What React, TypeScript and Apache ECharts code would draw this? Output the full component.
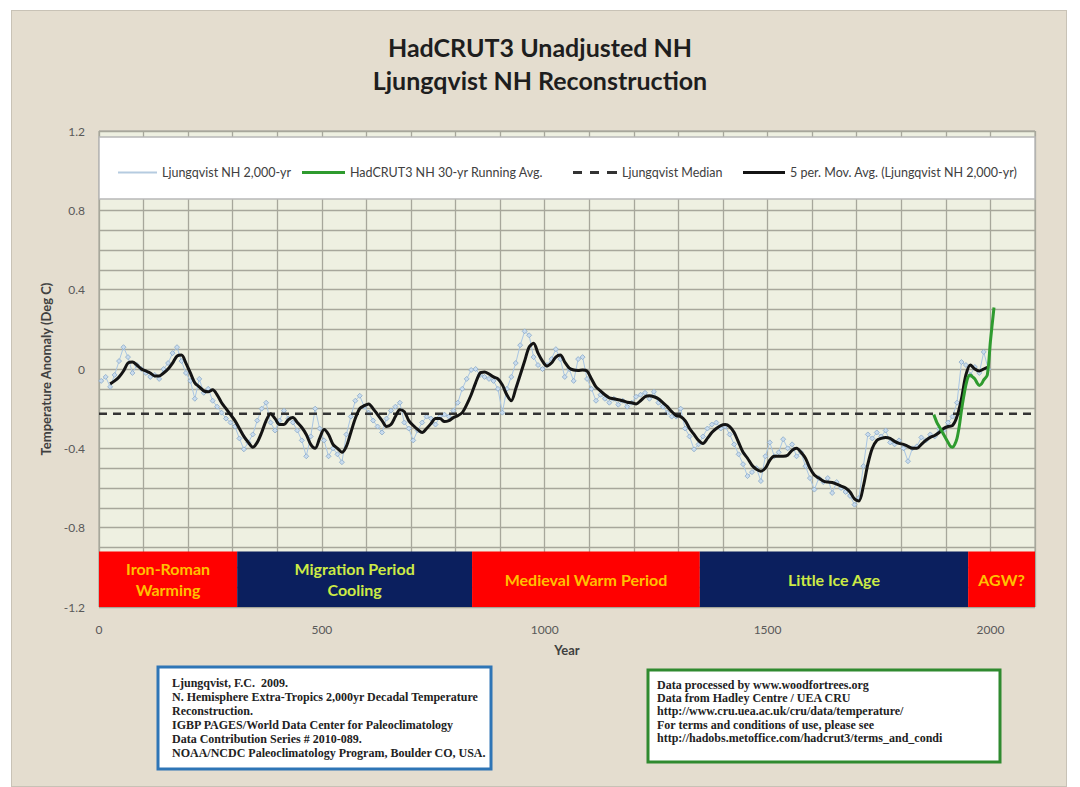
import React, { useEffect, useRef } from 'react';
import * as echarts from 'echarts';

// Ljungqvist NH 2,000-yr decadal reconstruction (one value per decade, years 5, 15, ... 1995)
const rawStartYear = 5;
const rawStep = 10;
const ljungqvistNH = [
  -0.06, -0.04, -0.09, -0.03, 0.04, 0.11, 0.06, -0.02, 0.02, 0.0,
  -0.02, -0.04, -0.03, -0.05, 0.0, 0.03, 0.08, 0.11, 0.04, -0.02,
  -0.06, -0.15, -0.05, -0.12, -0.1, -0.16, -0.19, -0.22, -0.25, -0.27,
  -0.29, -0.35, -0.405, -0.37, -0.33, -0.26, -0.2, -0.17, -0.27, -0.31,
  -0.26, -0.21, -0.25, -0.27, -0.31, -0.36, -0.44, -0.34, -0.2, -0.3,
  -0.36, -0.44, -0.4, -0.43, -0.47, -0.33, -0.24, -0.16, -0.135, -0.19,
  -0.22, -0.26, -0.29, -0.32, -0.25, -0.21, -0.19, -0.17, -0.27, -0.3,
  -0.36, -0.31, -0.27, -0.24, -0.25, -0.28, -0.24, -0.23, -0.24, -0.21,
  -0.17, -0.1, -0.05, -0.005, 0.0, -0.03, -0.04, -0.05, -0.06, -0.1,
  -0.22, -0.1, -0.04, 0.03, 0.12, 0.19, 0.17, 0.06, 0.02, 0.0,
  0.02, 0.05, 0.1, 0.05, -0.04, 0.0, -0.06, 0.05, 0.06, -0.05,
  -0.1, -0.16, -0.13, -0.15, -0.17, -0.15, -0.18, -0.16, -0.19, -0.17,
  -0.14, -0.13, -0.12, -0.15, -0.115, -0.17, -0.19, -0.22, -0.24, -0.24,
  -0.2, -0.3, -0.34, -0.405, -0.38, -0.34, -0.3, -0.28, -0.27, -0.3,
  -0.29, -0.33, -0.38, -0.43, -0.48, -0.54, -0.52, -0.5, -0.565, -0.44,
  -0.37, -0.44, -0.42, -0.354, -0.4, -0.38, -0.44, -0.42, -0.49, -0.55,
  -0.608, -0.55, -0.57, -0.55, -0.625, -0.57, -0.6, -0.62, -0.64, -0.684,
  -0.65, -0.49, -0.33, -0.35, -0.32, -0.34, -0.31, -0.37, -0.38, -0.36,
  -0.4, -0.465, -0.4, -0.39, -0.345, -0.36, -0.33, -0.34, -0.3, -0.31,
  -0.27, -0.24, -0.17, 0.035, 0.02, -0.03, 0.01, -0.02, 0.086, 0.0,
];

// 5 per. Mov. Avg. (Ljungqvist NH 2,000-yr) at years 25, 35, ... 1995
const maStartYear = 25;
const maStep = 10;
const movingAvg5 = [
  -0.075, -0.06, -0.04, -0.01, 0.03, 0.035, 0.02, 0.0,
  -0.01, -0.02, -0.035, -0.035, -0.02, 0.0, 0.03, 0.065, 0.07, 0.03,
  -0.02, -0.07, -0.09, -0.11, -0.115, -0.105, -0.13, -0.17, -0.2, -0.23,
  -0.26, -0.3, -0.34, -0.37, -0.395, -0.37, -0.32, -0.26, -0.225, -0.25,
  -0.28, -0.28, -0.255, -0.245, -0.27, -0.295, -0.33, -0.38, -0.4, -0.35,
  -0.305, -0.33, -0.38, -0.4, -0.42, -0.39, -0.32, -0.25, -0.2, -0.185,
  -0.176, -0.2, -0.23, -0.26, -0.29, -0.28, -0.24, -0.205, -0.215, -0.26,
  -0.285, -0.305, -0.32, -0.3, -0.275, -0.25, -0.25, -0.265, -0.26, -0.245,
  -0.235, -0.22, -0.18, -0.13, -0.07, -0.02, -0.015, -0.025, -0.04, -0.05,
  -0.08, -0.13, -0.16, -0.1, -0.03, 0.04, 0.11, 0.13, 0.08, 0.04,
  0.015, 0.03, 0.06, 0.07, 0.035, 0.005, -0.005, -0.007, -0.005, -0.01,
  -0.05, -0.09, -0.11, -0.13, -0.145, -0.15, -0.155, -0.16, -0.168, -0.17,
  -0.176, -0.16, -0.14, -0.135, -0.14, -0.15, -0.17, -0.19, -0.215, -0.235,
  -0.24, -0.26, -0.3, -0.33, -0.36, -0.375, -0.35, -0.32, -0.3, -0.285,
  -0.28, -0.29, -0.32, -0.37, -0.42, -0.45, -0.485, -0.506, -0.515, -0.5,
  -0.46, -0.44, -0.44, -0.44, -0.435, -0.41, -0.4, -0.42, -0.45, -0.5,
  -0.535, -0.55, -0.565, -0.57, -0.572, -0.58, -0.59, -0.6, -0.62, -0.655,
  -0.665, -0.59, -0.48, -0.4, -0.36, -0.35, -0.345, -0.35, -0.365, -0.375,
  -0.38, -0.39, -0.4, -0.4, -0.38, -0.36, -0.345, -0.335, -0.32, -0.3,
  -0.29, -0.285, -0.24, -0.15, -0.03, 0.02, 0.0, -0.01, 0.0, 0.01,
];

// HadCRUT3 NH 30-yr running average
const hadcrutYears = [1873, 1880, 1885, 1890, 1895, 1900, 1905, 1910, 1915, 1920, 1925, 1930, 1935, 1940, 1945, 1950, 1955, 1960, 1965, 1970, 1975, 1980, 1985, 1993, 2000, 2008];
const hadcrutValues = [-0.23, -0.27, -0.29, -0.31, -0.33, -0.35, -0.37, -0.39, -0.395, -0.38, -0.35, -0.29, -0.21, -0.14, -0.08, -0.04, -0.03, -0.04, -0.05, -0.07, -0.083, -0.075, -0.055, -0.03, 0.14, 0.31];

const ljungqvistMedian = -0.225;

const periodNames = ['Iron-Roman\nWarming', 'Migration Period\nCooling', 'Medieval Warm Period', 'Little Ice Age', 'AGW?'];
const periodStarts = [0, 310, 837, 1348, 1950];
const periodEnds = [310, 837, 1348, 1950, 2100];
const periodWarm = [true, false, true, false, true];
const bandTop = -0.92;
const bandBottom = -1.2;

const xLabelStep = 500;
const leftNoteLines = [
  'Ljungqvist, F.C.  2009.',
  'N. Hemisphere Extra-Tropics 2,000yr Decadal Temperature',
  'Reconstruction.',
  'IGBP PAGES/World Data Center for Paleoclimatology',
  'Data Contribution Series # 2010-089.',
  'NOAA/NCDC Paleoclimatology Program, Boulder CO, USA.',
];
const rightNoteLines = [
  'Data processed by www.woodfortrees.org',
  'Data from Hadley Centre / UEA CRU',
  'http://www.cru.uea.ac.uk/cru/data/temperature/',
  'For terms and conditions of use, please see',
  'http://hadobs.metoffice.com/hadcrut3/terms_and_condi',
];

const FONT = 'Lato, "Open Sans", sans-serif';

export default function App() {
  const ref = useRef<HTMLDivElement>(null);

  useEffect(() => {
    if (!ref.current) return;
    const chart = echarts.init(ref.current, undefined, { renderer: 'svg' });

    const rawData = ljungqvistNH.map((v, i) => [rawStartYear + i * rawStep, v]);
    const maData = movingAvg5.map((v, i) => [maStartYear + i * maStep, v]);
    const hadData = hadcrutYears.map((y, i) => [y, hadcrutValues[i]]);

    const bands = periodNames.map((name, i) => {
      const warm = periodWarm[i];
      return [
        {
          name,
          xAxis: periodStarts[i],
          yAxis: bandBottom,
          itemStyle: { color: warm ? '#FF0000' : '#0B1F5E', opacity: 1 },
          label: {
            show: true,
            position: 'inside',
            color: warm ? '#FFC000' : '#CDEB45',
            fontFamily: FONT,
            fontWeight: 'bold',
            fontSize: 16,
            lineHeight: 21,
            align: 'center',
          },
        },
        { xAxis: periodEnds[i], yAxis: bandTop },
      ];
    });

    const legendBase = {
      top: 161,
      textStyle: { fontFamily: FONT, fontSize: 12.5, color: '#404040' },
      z: 20,
      selectedMode: false,
    };

    chart.setOption({
      animation: false,
      backgroundColor: 'transparent',
      title: {
        text: 'HadCRUT3 Unadjusted NH\nLjungqvist NH Reconstruction',
        left: 'center',
        top: 25,
        textStyle: {
          fontFamily: FONT,
          fontSize: 25,
          fontWeight: 'bold',
          color: '#1e1e1e',
          lineHeight: 33,
        },
      },
      legend: [
        {
          ...legendBase,
          left: 113,
          itemWidth: 39,
          itemHeight: 2,
          data: [{ name: 'Ljungqvist NH 2,000-yr', icon: 'rect' }],
          itemStyle: { color: '#B5CBE0', borderWidth: 0 },
        },
        {
          ...legendBase,
          left: 297,
          itemWidth: 43,
          itemHeight: 3,
          data: [{ name: 'HadCRUT3 NH 30-yr Running Avg.', icon: 'rect' }],
          itemStyle: { color: '#2F9B2F', borderWidth: 0 },
        },
        {
          ...legendBase,
          left: 568,
          itemWidth: 44,
          itemHeight: 3,
          data: [{ name: 'Ljungqvist Median', icon: 'path://M0,0H9V3H0Z M17,0H26V3H17Z M34,0H44V3H34Z' }],
          itemStyle: { color: '#333333', borderWidth: 0 },
        },
        {
          ...legendBase,
          left: 738,
          itemWidth: 42,
          itemHeight: 3,
          data: [{ name: '5 per. Mov. Avg. (Ljungqvist NH 2,000-yr)', icon: 'rect' }],
          itemStyle: { color: '#141414', borderWidth: 0 },
        },
      ],
      grid: {
        left: 99,
        top: 131,
        width: 936,
        height: 476,
        show: true,
        backgroundColor: '#EEF0E1',
        borderColor: '#9C9C94',
        borderWidth: 1,
      },
      xAxis: {
        type: 'value',
        min: 0,
        max: 2100,
        interval: 100,
        name: 'Year',
        nameLocation: 'middle',
        nameGap: 36,
        nameTextStyle: { fontFamily: FONT, fontSize: 13, fontWeight: 'bold', color: '#404040' },
        axisLine: { show: false },
        axisTick: { show: false },
        axisLabel: {
          margin: 16,
          fontFamily: FONT,
          fontSize: 12,
          color: '#595959',
          formatter: (v: number) => (v % xLabelStep === 0 ? String(v) : ''),
        },
        splitLine: { show: true, lineStyle: { color: '#A7A79B', width: 1.3 } },
      },
      yAxis: {
        type: 'value',
        min: -1.2,
        max: 1.2,
        interval: 0.1,
        name: 'Temperature Anomaly (Deg C)',
        nameLocation: 'middle',
        nameGap: 44,
        nameTextStyle: { fontFamily: FONT, fontSize: 13, fontWeight: 'bold', color: '#404040' },
        axisLine: { show: false },
        axisTick: { show: false },
        axisLabel: {
          margin: 14,
          fontFamily: FONT,
          fontSize: 12,
          color: '#595959',
          formatter: (v: number) => {
            const k = Math.round(v * 10);
            if (k % 4 !== 0) return '';
            return k === 0 ? '0' : (k / 10).toFixed(1);
          },
        },
        splitLine: { show: true, lineStyle: { color: '#A7A79B', width: 1.3 } },
      },
      graphic: [
        {
          type: 'rect',
          z: 10,
          shape: { x: 99, y: 137, width: 936, height: 62 },
          style: { fill: '#FFFFFF', stroke: '#B8B8B8', lineWidth: 1.5 },
        },
        {
          type: 'rect',
          z: 10,
          shape: { x: 158, y: 667, width: 333, height: 102 },
          style: { fill: '#FFFFFF', stroke: '#2E75B6', lineWidth: 3 },
        },
        {
          type: 'text',
          z: 11,
          x: 172,
          y: 676,
          style: {
            text: leftNoteLines.join('\n'),
            fontFamily: '"Liberation Serif", serif',
            fontSize: 12,
            fontWeight: 'bold',
            lineHeight: 14,
            fill: '#222222',
          },
        },
        {
          type: 'rect',
          z: 10,
          shape: { x: 648, y: 670, width: 352, height: 92 },
          style: { fill: '#FFFFFF', stroke: '#2F8A2F', lineWidth: 3 },
        },
        {
          type: 'text',
          z: 11,
          x: 657,
          y: 678,
          style: {
            text: rightNoteLines.join('\n'),
            fontFamily: '"Liberation Serif", serif',
            fontSize: 12,
            fontWeight: 'bold',
            lineHeight: 13.3,
            fill: '#222222',
          },
        },
      ],
      series: [
        {
          name: 'Ljungqvist NH 2,000-yr',
          type: 'line',
          data: rawData,
          z: 2,
          symbol: 'diamond',
          symbolSize: 5,
          showSymbol: true,
          lineStyle: { color: '#A9C6E4', width: 1 },
          itemStyle: { color: '#C9DCEE', borderColor: '#8AA9C8', borderWidth: 0.8 },
          markArea: { silent: true, data: bands },
        },
        {
          name: 'HadCRUT3 NH 30-yr Running Avg.',
          type: 'line',
          data: hadData,
          z: 5,
          symbol: 'none',
          smooth: 0.3,
          lineStyle: { color: '#2F9B2F', width: 3 },
          itemStyle: { color: '#2F9B2F' },
        },
        {
          name: 'Ljungqvist Median',
          type: 'line',
          data: [[0, ljungqvistMedian], [2100, ljungqvistMedian]],
          z: 3,
          symbol: 'none',
          lineStyle: { color: '#333333', width: 2.5, type: [8, 6] },
          itemStyle: { color: '#333333' },
        },
        {
          name: '5 per. Mov. Avg. (Ljungqvist NH 2,000-yr)',
          type: 'line',
          data: maData,
          z: 4,
          symbol: 'none',
          smooth: 0.3,
          lineStyle: { color: '#141414', width: 3 },
          itemStyle: { color: '#141414' },
        },
      ],
    });

    return () => chart.dispose();
  }, []);

  return (
    <div style={{ position: 'fixed', left: 0, top: 0, width: 1080, height: 787, background: '#FFFFFF' }}>
      <div
        style={{
          position: 'absolute',
          left: 11,
          top: 10,
          width: 1056,
          height: 777,
          background: '#E4DDCF',
          boxSizing: 'border-box',
          border: '1px solid #C8C2B6',
        }}
      />
      <div ref={ref} style={{ position: 'absolute', left: 0, top: 0, width: 1080, height: 787 }} />
    </div>
  );
}
